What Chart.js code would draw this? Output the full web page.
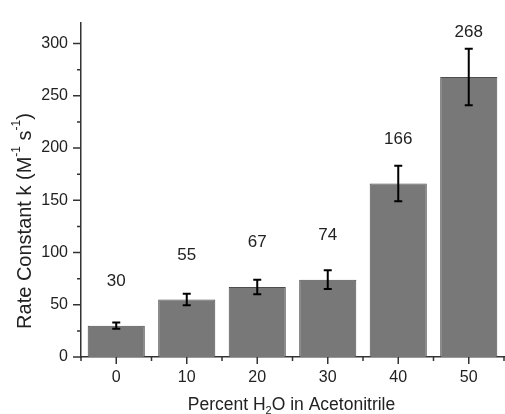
<!DOCTYPE html>
<html>
<head>
<meta charset="utf-8">
<title>Rate constant vs water content</title>
<script src="https://cdn.jsdelivr.net/npm/chart.js@4.4.1/dist/chart.umd.min.js"></script>
<style>
  html, body { margin: 0; padding: 0; background: #ffffff; }
  #wrap { width: 505px; height: 414px; position: relative; }
</style>
</head>
<body>
<div id="wrap"><canvas id="rateChart"></canvas></div>
<script>
// percent water in acetonitrile
const categories = ['0', '10', '20', '30', '40', '50'];
// rate constant k (M^-1 s^-1) and its error
const rateValues = [30, 55, 67, 74, 166, 268];
const rateErrors = [3, 5.5, 7, 9, 17, 27];
const yTickValues = [0, 50, 100, 150, 200, 250, 300];

const FONT = "'Liberation Sans', Arial, sans-serif";
const INK = '#222222';
const AXIS = '#333333';

// error bars plus the value printed above each bar
const errorBarPlugin = {
    id: 'errorBars',
    afterDatasetsDraw(chart, args, opts) {
        const ctx = chart.ctx;
        const meta = chart.getDatasetMeta(0);
        const y = chart.scales.y;
        ctx.save();
        meta.data.forEach(function(bar, i) {
            const x = bar.x;
            const top = y.getPixelForValue(rateValues[i] + rateErrors[i]);
            const bottom = y.getPixelForValue(rateValues[i] - rateErrors[i]);
            ctx.strokeStyle = '#000000';
            ctx.lineWidth = 2;
            ctx.beginPath();
            ctx.moveTo(x, top);
            ctx.lineTo(x, bottom);
            ctx.moveTo(x - 4, top);
            ctx.lineTo(x + 4, top);
            ctx.moveTo(x - 4, bottom);
            ctx.lineTo(x + 4, bottom);
            ctx.stroke();

            ctx.fillStyle = INK;
            ctx.font = '17px ' + FONT;
            ctx.textAlign = 'center';
            ctx.textBaseline = 'middle';
            ctx.fillText(String(rateValues[i]), x, top - opts.labelGaps[i]);
        });
        ctx.restore();
    }
};

// outward major/minor tick marks and the two axis titles
const axisPlugin = {
    id: 'axisDecor',
    afterDraw(chart) {
        const ctx = chart.ctx;
        const area = chart.chartArea;
        const x = chart.scales.x;
        const y = chart.scales.y;
        ctx.save();
        ctx.strokeStyle = AXIS;
        ctx.lineWidth = 1.5;
        ctx.beginPath();
        yTickValues.forEach(function(v, i) {
            const py = y.getPixelForValue(v);
            ctx.moveTo(area.left, py);
            ctx.lineTo(area.left - 8, py);
            const mid = v + 25;
            if (mid < y.max) {
                const pm = y.getPixelForValue(mid);
                ctx.moveTo(area.left, pm);
                ctx.lineTo(area.left - 4, pm);
            }
        });
        const step = (area.right - area.left) / categories.length;
        categories.forEach(function(c, i) {
            const px = x.getPixelForValue(i);
            ctx.moveTo(px, area.bottom);
            ctx.lineTo(px, area.bottom + 7);
        });
        for (let i = 0; i <= categories.length; i++) {
            const px = area.left + i * step;
            ctx.moveTo(px, area.bottom);
            ctx.lineTo(px, area.bottom + 4);
        }
        ctx.stroke();

        ctx.fillStyle = INK;
        ctx.textBaseline = 'middle';

        // y title with superscripts, rotated
        const main = '20px ' + FONT;
        const small = '12px ' + FONT;
        const yParts = [
            ['Rate Constant k (M', main, 0],
            ['-1', small, -8],
            [' s', main, 0],
            ['-1', small, -8],
            [')', main, 0]
        ];
        ctx.save();
        ctx.translate(25, 221);
        ctx.rotate(-Math.PI / 2);
        drawParts(ctx, yParts);
        ctx.restore();

        // x title with subscript
        const xMain = '17.5px ' + FONT;
        const xSmall = '11px ' + FONT;
        const xParts = [
            ['Percent H', xMain, 0],
            ['2', xSmall, 6],
            ['O in Acetonitrile', xMain, 0]
        ];
        ctx.save();
        ctx.translate((area.left + area.right) / 2 - 1, 405);
        drawParts(ctx, xParts);
        ctx.restore();

        ctx.restore();
    }
};

function drawParts(ctx, parts) {
    let total = 0;
    parts.forEach(function(p) { ctx.font = p[1]; total += ctx.measureText(p[0]).width; });
    let cx = -total / 2;
    ctx.textAlign = 'left';
    parts.forEach(function(p) {
        ctx.font = p[1];
        ctx.fillText(p[0], cx, p[2]);
        cx += ctx.measureText(p[0]).width;
    });
}

const canvas = document.getElementById('rateChart');
new Chart(canvas.getContext('2d'), {
    type: 'bar',
    data: {
        labels: categories,
        datasets: [{
            data: rateValues,
            backgroundColor: '#787878',
            borderColor: '#4d4d4d',
            borderWidth: 1,
            borderSkipped: 'bottom',
            categoryPercentage: 1.0,
            barPercentage: 0.81
        }]
    },
    options: {
        responsive: true,
        maintainAspectRatio: false,
        animation: false,
        layout: { padding: { top: 14, right: 1, left: 0, bottom: 0 } },
        scales: {
            x: {
                offset: true,
                grid: { display: false, drawTicks: false },
                border: { display: true, color: AXIS, width: 1.5 },
                ticks: {
                    padding: 11,
                    color: INK,
                    font: { family: FONT, size: 16 },
                    maxRotation: 0
                },
                afterFit(scale) { scale.height = 57; }
            },
            y: {
                min: 0,
                max: 320,
                grid: { display: false, drawTicks: false },
                border: { display: true, color: AXIS, width: 1.5 },
                ticks: {
                    padding: 13,
                    color: INK,
                    font: { family: FONT, size: 16 }
                },
                afterBuildTicks(scale) {
                    scale.ticks = yTickValues.map(function(v) { return { value: v }; });
                },
                afterFit(scale) { scale.width = 81; }
            }
        },
        plugins: {
            legend: { display: false },
            tooltip: { enabled: false },
            errorBars: { labelGaps: [41, 38, 37, 35, 26, 16] }
        }
    },
    plugins: [errorBarPlugin, axisPlugin]
});
</script>
</body>
</html>
